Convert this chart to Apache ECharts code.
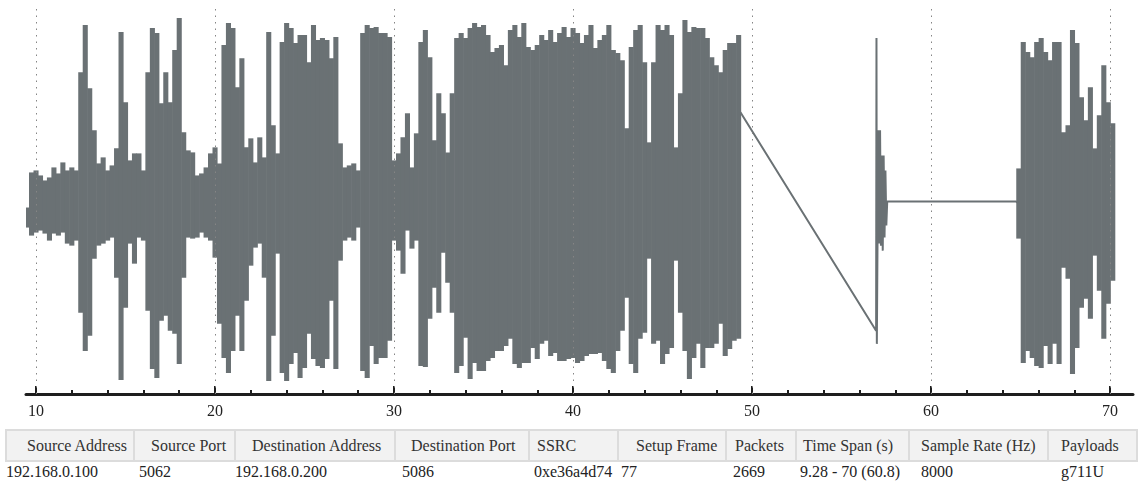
<!DOCTYPE html>
<html>
<head>
<meta charset="utf-8">
<title>RTP stream waveform</title>
<script src="https://cdn.jsdelivr.net/npm/echarts@6/dist/echarts.min.js"></script>
<style>
  html, body { margin: 0; padding: 0; background: #fff; }
  body { width: 1140px; height: 487px; position: relative; overflow: hidden;
         font-family: "Liberation Serif", "DejaVu Serif", serif; color: #222; }
  #chart { position: absolute; left: 0; top: 0; width: 1140px; height: 425px; }
  .hcell { position: absolute; top: 429px; height: 33px; box-sizing: border-box;
           background: #f2f2f2; border: 2px solid #dcdcdc; }
  .htext { position: absolute; top: 431px; line-height: 29px; font-size: 16px; white-space: nowrap; color: #333; }
  .vtext { position: absolute; top: 462px; line-height: 20px; font-size: 16px; white-space: nowrap; color: #222; }
</style>
</head>
<body>
<div id="chart"></div>
<div id="info"></div>
<script>
// ---- stream summary ----
const headers = ['Source Address', 'Source Port', 'Destination Address', 'Destination Port',
  'SSRC', 'Setup Frame', 'Packets', 'Time Span (s)', 'Sample Rate (Hz)', 'Payloads'];
const values = ['192.168.0.100', '5062', '192.168.0.200', '5086',
  '0xe36a4d74', '77', '2669', '9.28 - 70 (60.8)', '8000', 'g711U'];

// ---- axis ticks (seconds) ----
const majorTicks = [10, 20, 30, 40, 50, 60, 70];
const minorTicks = [12, 14, 16, 18, 22, 24, 26, 28, 32, 34, 36, 38, 42, 44, 46, 48,
  52, 54, 56, 58, 62, 64, 66, 68];

// ---- waveform envelope, sampled every 0.25 s ----
const envelopeStep = 0.25;

// first talk spurt, from 9.5 s
const spurtAStart = 9.5;
const spurtAHigh = [
  -5, 30,
  32, 27, 22, 25,     35, 29, 40, 32,     35, 32, 130, 177,   114, 72, 39, 45,
  32, 37, 54, 170,    100, 42, 49, 49,    32, 130, 174, 169,  99, 130, 100, 152,
  184, 70, 52, 50,    27, 29, 35, 49,     55, 39, 157, 179,   174, 115, 144, 55,
  64, 40, 65, 45,     170, 77, 49, 160,   179, 174, 159, 167, 167, 140, 177, 162,
  164, 162, 144, 165, 59, 35, 37, 39,     32, 169, 177, 174,  175, 169, 169, 165,
  42, 49, 65, 89,     35, 69, 160, 172,   145, 62, 109, 89,   50, 109, 164, 169,
  164, 174, 179, 175, 177, 167, 150, 154, 157, 137, 172, 177, 165, 179, 155, 152,
  157, 167, 162, 172, 160, 169, 175, 165, 174, 169, 159, 167, 177, 154, 162, 167,
  177, 152, 149, 142, 74, 155, 172, 177,  140, 60, 140, 177,  172, 177, 167, 55,
  109, 182, 170, 175, 174, 174, 164, 145, 137, 130, 152, 159,
  159, 167
];
const spurtALow = [
  -25, -33,
  -30, -28, -31, -38,     -31, -33, -30, -41,     -43, -38, -110, -148,   -133, -56, -43, -41,
  -38, -35, -75, -177,    -105, -41, -61, -35,    -38, -108, -166, -175,  -118, -113, -128, -131,
  -161, -75, -35, -36,    -35, -30, -35, -38,     -55, -121, -155, -170,  -148, -113, -148, -98,
  -63, -45, -41, -75,     -178, -133, -51, -170,  -178, -161, -150, -175, -165, -131, -156, -163,
  -165, -156, -98, -166,  -58, -38, -35, -38,     -25, -168, -175, -143,  -161, -155, -155, -138,
  -38, -48, -71, -28,     -46, -38, -163, -164,   -116, -85, -110, -50,    -80, -110, -170, -163,
  -135, -176, -160, -168, -168, -158, -155, -148, -148, -143, -136, -161, -165, -160, -160, -145,
  -156, -141, -138, -153, -150, -158, -158, -156, -155, -160, -158, -153, -151, -151, -150, -158,
  -166, -170, -148, -128, -95, -161, -170, -136,  -130, -56, -141, -138,  -161, -151, -145, -58,
  -110, -148, -176, -155, -141, -165, -145, -145, -141, -121, -153, -146,
  -138, -136
];

// packet gap, short burst near 57 s, then silence until 64.75 s
const gapTimes = [49.35, 56.93, 56.95, 56.97, 57.05, 57.1, 57.15, 57.2, 57.25, 57.3, 57.35, 57.4, 57.45, 57.5, 57.55, 64.75, 64.85];
const gapValues = [90, -128, 164, -141, 72, -41, 72, -43, 47, -48, 47, -35, 32, -23, 1, 1, 0];

// last talk spurt, from 64.9 s
const spurtCStart = 64.9;
const spurtCHigh = [34, 160, 150, 145, 160, 164, 150, 142, 160, 160, 70,
  77, 172, 159, 105, 82, 115, 54, 87, 137, 100, 79];
const spurtCLow = [-36, -160, -148, -155, -163, -165, -143, -161, -141, -161, -65,
  -76, -171, -145, -105, -96, -116, -53, -88, -136, -101, -78];

// Envelope columns: [time, trough, peak]
function columns(start, hi, lo) {
  return hi.map((v, i) => [start + i * envelopeStep, lo[i], v]);
}
const envelope = columns(spurtAStart, spurtAHigh, spurtALow)
  .concat(columns(spurtCStart, spurtCHigh, spurtCLow));
const gapTrace = gapTimes.map((t, i) => [t, gapValues[i]]);

// ---- chart ----
const X_MIN = 9.44, X_MAX = 71.28;
const ink = '#1e1e1e';
const wave = '#6a7174';
const serif = '"Liberation Serif", "DejaVu Serif", serif';

function renderColumn(params, api) {
  const t = api.value(0), lo = api.value(1), hi = api.value(2);
  const top = api.coord([t, hi]);
  const bottom = api.coord([t, lo]);
  const w = api.size([envelopeStep, 0])[0];
  return {
    type: 'rect',
    shape: { x: top[0] - w / 2 - 0.3, y: top[1], width: w + 0.6, height: bottom[1] - top[1] },
    style: { fill: wave, stroke: null }
  };
}

const chart = echarts.init(document.getElementById('chart'), null, { renderer: 'canvas' });
chart.setOption({
  animation: false,
  grid: { left: 26, right: 7, top: 5, bottom: 31, containLabel: false },
  xAxis: [{
    type: 'value', min: X_MIN, max: X_MAX, position: 'bottom',
    axisLine: { show: true, onZero: false, lineStyle: { color: ink, width: 3 } },
    axisTick: { show: true, inside: true, length: 8, customValues: majorTicks,
      lineStyle: { color: ink, width: 2 } },
    axisLabel: { show: true, customValues: majorTicks, margin: 10, color: '#222',
      fontFamily: serif, fontSize: 16, formatter: v => String(v) },
    splitLine: { show: false }
  }, {
    type: 'value', min: X_MIN, max: X_MAX, position: 'bottom', offset: 0,
    axisLine: { show: false, onZero: false },
    axisTick: { show: true, inside: true, length: 4, customValues: minorTicks,
      lineStyle: { color: ink, width: 2 } },
    axisLabel: { show: false },
    splitLine: { show: false }
  }],
  yAxis: { type: 'value', min: -191, max: 197, show: false, splitLine: { show: false } },
  series: [
    {
      name: 'envelope', type: 'custom', data: envelope, renderItem: renderColumn,
      encode: { x: 0, y: [1, 2] }, silent: true, clip: true, z: 2
    },
    {
      name: 'gap', type: 'line', data: gapTrace, showSymbol: false, symbol: 'none',
      silent: true, z: 2,
      lineStyle: { color: wave, width: 2 }
    },
    {
      name: 'grid', type: 'line', data: [], silent: true, z: 3,
      markLine: {
        silent: true,
        symbol: ['none', 'none'],
        label: { show: false },
        lineStyle: { color: '#858585', type: [1.5, 5], width: 1 },
        data: majorTicks.map(v => ({ xAxis: v }))
      }
    }
  ]
});

// ---- summary table ----
const colEdges = [5, 133, 234, 394, 528, 617, 725, 795, 908, 1047, 1136];
const headerLeft = [27, 151, 252, 411, 537, 636, 735, 803, 921, 1061];
const valueLeft = [6, 139, 235, 402, 534, 621, 733, 800, 921, 1061];
const info = document.getElementById('info');
headers.forEach((h, i) => {
  const cell = document.createElement('div');
  cell.className = 'hcell';
  cell.style.left = colEdges[i] + 'px';
  cell.style.width = (colEdges[i + 1] - colEdges[i] + 2) + 'px';
  info.appendChild(cell);
});
headers.forEach((h, i) => {
  const t = document.createElement('div');
  t.className = 'htext';
  t.style.left = headerLeft[i] + 'px';
  t.textContent = h;
  info.appendChild(t);
  const v = document.createElement('div');
  v.className = 'vtext';
  v.style.left = valueLeft[i] + 'px';
  v.textContent = values[i];
  info.appendChild(v);
});
</script>
</body>
</html>
